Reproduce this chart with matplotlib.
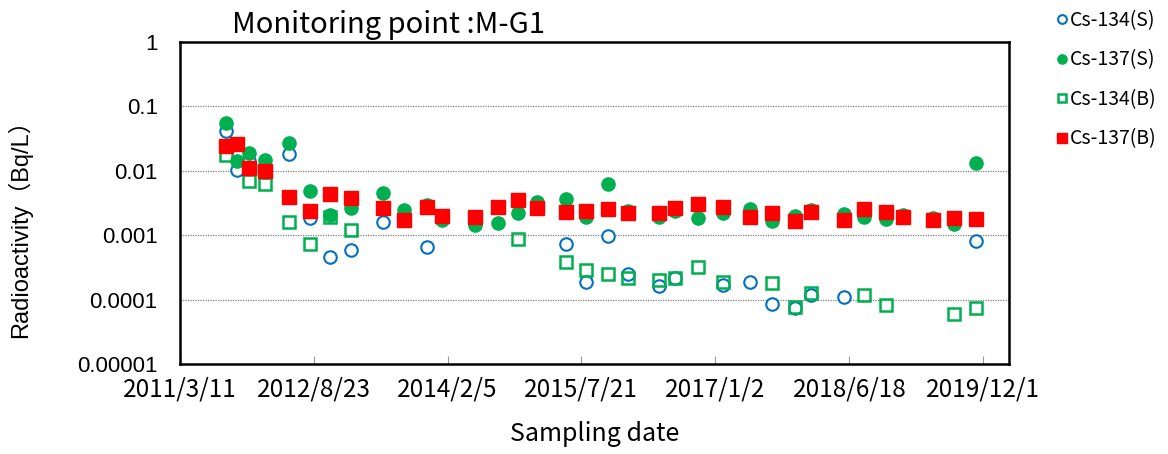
import numpy as np
import pandas as pd
import matplotlib
matplotlib.use('Agg')
import matplotlib.pyplot as plt
from matplotlib.ticker import FixedLocator, NullLocator

plt.rcParams['font.family'] = ['Noto Sans CJK JP', 'DejaVu Sans']

nan = np.nan

# sampling dates
dates = ['2011-09-10', '2011-10-22', '2011-12-11', '2012-02-11', '2012-05-18',
         '2012-08-08', '2012-10-26', '2013-01-16', '2013-05-23', '2013-08-16',
         '2013-11-14', '2014-01-15', '2014-05-25', '2014-08-26', '2014-11-13',
         '2015-01-25', '2015-05-21', '2015-08-07', '2015-11-04', '2016-01-23',
         '2016-05-24', '2016-07-25', '2016-10-25', '2017-02-03', '2017-05-20',
         '2017-08-17', '2017-11-16', '2018-01-16', '2018-05-28', '2018-08-17',
         '2018-11-10', '2019-01-18', '2019-05-15', '2019-08-08', '2019-11-03']

cs134_s = [0.042, 0.0103, 0.0142, 0.0096, 0.0182, 0.00187, 0.000464, 0.000589, 0.00159, nan,
           0.000649, nan, nan, nan, nan, nan, 0.000722, 0.000186, 0.00098, 0.00025,
           0.000164, 0.000216, nan, 0.000169, 0.000186, 0.0000855, 0.0000733, 0.000118, 0.000109, nan,
           nan, nan, nan, nan, 0.000813]
cs137_s = [0.0547, 0.0144, 0.0191, 0.0147, 0.0273, 0.00486, 0.00206, 0.00262, 0.00457, 0.00246,
           0.00294, 0.00172, 0.00144, 0.00156, 0.00219, 0.00331, 0.00365, 0.00194, 0.00624, 0.0024,
           0.00194, 0.00238, 0.00187, 0.00219, 0.00252, 0.00168, 0.00199, 0.00246, 0.00213, 0.00194,
           0.00177, 0.00206, 0.00183, 0.00149, 0.0131]
cs134_b = [0.0176, nan, 0.00702, 0.00617, 0.00159, 0.00073, 0.00192, 0.0012, nan, nan,
           nan, nan, nan, nan, 0.000863, nan, 0.00038, 0.000288, 0.000247, 0.000214,
           0.000201, 0.000214, 0.000317, 0.00019, nan, 0.000179, 0.0000759, 0.000128, nan, 0.000118,
           0.0000815, nan, nan, 0.0000591, 0.0000748]
cs137_b = [0.0245, 0.0258, 0.0110, 0.0100, 0.00392, 0.0024, 0.00441, 0.00374, 0.00262, 0.00172,
           0.00271, 0.00201, 0.0019, 0.00271, 0.00352, 0.00262, 0.00232, 0.0024, 0.00252, 0.00219,
           0.00219, 0.00262, 0.00302, 0.00271, 0.0019, 0.00219, 0.00168, 0.00232, 0.00172, 0.00252,
           0.00232, 0.0019, 0.00172, 0.00183, 0.00179]

xtick_labels = ['2011/3/11', '2012/8/23', '2014/2/5', '2015/7/21', '2017/1/2', '2018/6/18', '2019/12/1']
ytick_vals = [1, 0.1, 0.01, 0.001, 0.0001, 0.00001]
ytick_labels = ['1', '0.1', '0.01', '0.001', '0.0001', '0.00001']

x = pd.to_datetime(dates)
xt = pd.to_datetime(xtick_labels, format='%Y/%m/%d')

fig = plt.figure(figsize=(11.68, 4.54), dpi=100)
ax = fig.add_axes([0.154, 0.198, 0.71, 0.7095])

ax.plot(x, cs134_s, 'o', ms=9, mfc='white', mec='#0070C0', mew=1.5, ls='none', label='Cs-134(S)')
ax.plot(x, cs137_s, 'o', ms=9.5, mfc='#00B050', mec='#00B050', ls='none', label='Cs-137(S)')
ax.plot(x, cs134_b, 's', ms=9, mfc='none', mec='#00B050', mew=1.8, ls='none', label='Cs-134(B)')
ax.plot(x, cs137_b, 's', ms=9.5, mfc='#FF0000', mec='#FF0000', ls='none', label='Cs-137(B)')

ax.set_yscale('log')
ax.set_ylim(0.00001, 1)
ax.yaxis.set_major_locator(FixedLocator(ytick_vals))
ax.yaxis.set_minor_locator(NullLocator())
ax.set_yticklabels(ytick_labels, family=['Liberation Sans', 'DejaVu Sans'], fontsize=16)
ax.tick_params(axis='y', length=0, pad=16)

ax.set_xlim(xt[0], xt[0] + pd.Timedelta(days=3290))
ax.set_xticks(xt)
ax.set_xticklabels(xtick_labels, fontsize=17.5)
ax.tick_params(axis='x', direction='in', length=6, color='#999999', pad=9)

for v in ytick_vals[1:-1]:
    ax.axhline(v, color='#808080', ls=(0, (1, 1)), lw=0.9, zorder=0)

for s in ax.spines.values():
    s.set_linewidth(1.8)
    s.set_color('black')

ax.set_xlabel('Sampling date', fontsize=18, va='center')
ax.xaxis.set_label_coords(0.5, -0.217)
ax.set_ylabel('Radioactivity（Bq/L）', fontsize=17, family=['Liberation Sans', 'Noto Sans CJK JP'])
ax.yaxis.set_label_coords(-0.178, 0.44)

fig.text(0.199, 0.945, 'Monitoring point :M-G1', fontsize=21, va='center', ha='left')

fig.legend(loc='upper left', bbox_to_anchor=(0.898, 0.995), frameon=False, fontsize=14,
           markerscale=0.7, handlelength=0.6, handletextpad=0.1, labelspacing=0.95, borderaxespad=0)

fig.savefig('out.png', dpi=100)
